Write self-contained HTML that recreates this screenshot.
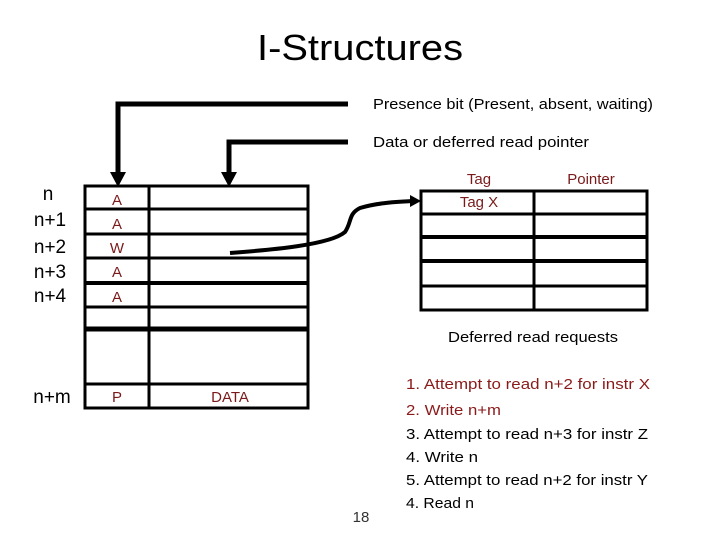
<!DOCTYPE html>
<html><head><style>
html,body{margin:0;padding:0;background:#fff;}
svg{display:block;}
text{font-family:"Liberation Sans",sans-serif;}
</style></head><body>
<svg width="720" height="540" viewBox="0 0 720 540" xmlns="http://www.w3.org/2000/svg">
<text x="257" y="60" font-size="36" textLength="206" lengthAdjust="spacingAndGlyphs" fill="#000">I-Structures</text>
<g stroke="#000" stroke-width="5" fill="none">
<polyline points="348,104 118,104 118,174"/>
<polyline points="348,142 229,142 229,174"/>
</g>
<polygon points="110,172 126,172 118,187" fill="#000"/>
<polygon points="221,172 237,172 229,187" fill="#000"/>
<text x="373" y="109" font-size="15" textLength="280" lengthAdjust="spacingAndGlyphs">Presence bit (Present, absent, waiting)</text>
<text x="373" y="147" font-size="15" textLength="216" lengthAdjust="spacingAndGlyphs">Data or deferred read pointer</text>
<g stroke="#000" stroke-width="3" fill="none">
<rect x="85" y="186" width="223" height="222"/>
<line x1="149" y1="186" x2="149" y2="408"/>
<line x1="85" y1="209" x2="308" y2="209"/>
<line x1="85" y1="234" x2="308" y2="234"/>
<line x1="85" y1="258" x2="308" y2="258"/>
<line x1="85" y1="283" x2="308" y2="283" stroke-width="4"/>
<line x1="85" y1="307" x2="308" y2="307"/>
<line x1="85" y1="329" x2="308" y2="329" stroke-width="5"/>
<line x1="85" y1="384" x2="308" y2="384"/>
</g>
<g fill="#7a1a1a" font-size="15" text-anchor="middle">
<text x="117" y="205">A</text>
<text x="117" y="229">A</text>
<text x="117" y="253">W</text>
<text x="117" y="277">A</text>
<text x="117" y="302">A</text>
<text x="117" y="402">P</text>
<text x="230" y="402">DATA</text>
</g>
<g fill="#000" font-size="19" text-anchor="middle">
<text x="48" y="200">n</text>
<text x="50" y="226">n+1</text>
<text x="50" y="253">n+2</text>
<text x="50" y="278">n+3</text>
<text x="50" y="302">n+4</text>
<text x="52" y="403">n+m</text>
</g>
<path d="M230,253 C270,250 330,245 345,232 C352,222 348,214 360,208 C380,202 400,202 412,201" stroke="#000" stroke-width="4" fill="none"/>
<polygon points="410,195 421,201 410,207" fill="#000"/>
<g stroke="#000" stroke-width="3" fill="none">
<rect x="421" y="191" width="226" height="119"/>
<line x1="534" y1="191" x2="534" y2="310"/>
<line x1="421" y1="214" x2="647" y2="214"/>
<line x1="421" y1="237" x2="647" y2="237" stroke-width="4"/>
<line x1="421" y1="261" x2="647" y2="261" stroke-width="4"/>
<line x1="421" y1="286" x2="647" y2="286"/>
</g>
<g fill="#7a1a1a" font-size="15" text-anchor="middle">
<text x="479" y="184">Tag</text>
<text x="591" y="184">Pointer</text>
<text x="479" y="207">Tag X</text>
</g>
<text x="533" y="342" font-size="15" text-anchor="middle" textLength="170" lengthAdjust="spacingAndGlyphs">Deferred read requests</text>
<g font-size="15">
<text x="406" y="389" fill="#8a1a1a" textLength="244" lengthAdjust="spacingAndGlyphs">1. Attempt to read n+2 for instr X</text>
<text x="406" y="415" fill="#8a1a1a" textLength="95" lengthAdjust="spacingAndGlyphs">2. Write n+m</text>
<text x="406" y="439" fill="#000" textLength="242" lengthAdjust="spacingAndGlyphs">3. Attempt to read n+3 for instr Z</text>
<text x="406" y="462" fill="#000" textLength="72" lengthAdjust="spacingAndGlyphs">4. Write n</text>
<text x="406" y="485" fill="#000" textLength="242" lengthAdjust="spacingAndGlyphs">5. Attempt to read n+2 for instr Y</text>
<text x="406" y="508" fill="#000" textLength="68" lengthAdjust="spacingAndGlyphs">4. Read n</text>
</g>
<text x="361" y="522" font-size="15" text-anchor="middle" fill="#333">18</text>
</svg>
</body></html>
